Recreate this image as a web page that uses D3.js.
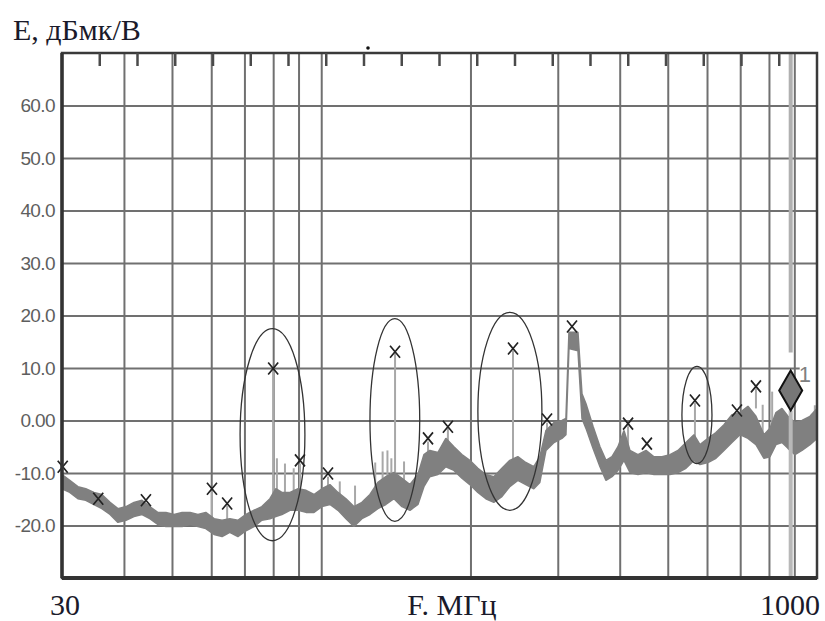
<!DOCTYPE html>
<html>
<head>
<meta charset="utf-8">
<script src="https://cdn.jsdelivr.net/npm/d3@7"></script>
<style>
  html, body { margin: 0; padding: 0; background: #fff; }
  svg { display: block; }
</style>
</head>
<body>
<svg id="chart" width="825" height="621"></svg>
<script>
// spectrum trace: frequency (MHz), upper and lower edge of the noise band (dB)
const traceFreq = [30, 31.1, 32.3, 33.5, 34.8, 36.1, 37.5, 38.9, 40.4, 41.9, 43.5, 45.1, 46.8, 48.6, 50.5, 52.4, 54.4, 56.4, 58.5, 60.8,
  63.1, 65.4, 67.9, 70.5, 73.2, 75.9, 78.8, 81.0, 83.3, 86.5, 89.8, 93.2, 96.7, 100.3, 104.1, 108.1, 112.2, 116.4, 120.8, 125.4,
  130.1, 135.0, 140.2, 145.5, 151.0, 156.7, 161.1, 165.6, 171.9, 178.4, 185.2, 192.2, 199.4, 207.0, 214.8, 222.9, 231.4, 240.1, 249.2, 258.6,
  268.4, 276.0, 284.0, 294.8, 305.9, 311.6, 316.0, 329.5, 335.7, 342.0, 353.3, 365.0, 375.3, 385.9, 396.8, 408.0, 419.5, 435.4, 451.9, 469.0,
  486.8, 505.2, 524.3, 544.1, 564.7, 580.7, 602.6, 625.4, 649.1, 673.6, 699.1, 725.6, 753.1, 781.6, 803.8, 826.5, 849.8, 873.8, 902.8, 932.6,
  967.9, 1000];
const traceHi = [-10.3, -11.4, -12.6, -13.0, -13.7, -14.1, -15.6, -16.8, -16.4, -15.6, -15.2, -16.4, -17.5, -17.5, -17.9, -17.5, -17.5, -17.9, -17.5, -18.7,
  -19.0, -18.7, -19.0, -17.9, -17.1, -16.4, -14.9, -13.0, -13.7, -13.7, -13.0, -13.3, -14.1, -13.0, -12.2, -13.7, -14.9, -16.4, -15.6, -14.1,
  -11.8, -10.7, -9.9, -11.0, -12.2, -10.3, -6.5, -5.7, -6.1, -3.4, -5.0, -6.5, -7.6, -9.1, -10.3, -10.7, -9.1, -7.6, -6.9, -8.0,
  -8.8, -6.9, -1.9, -0.4, 0, 0.4, 16.8, 16.8, 5.1, 3.2, -1.1, -5.0, -7.6, -6.9, -5.0, -1.9, -5.7, -6.5, -5.7, -6.9,
  -6.9, -6.5, -5.7, -4.2, -2.7, -4.6, -3.4, -2.3, -0.8, 1.1, 1.5, 2.7, 0.8, -2.7, -1.5, 1.5, 2.3, 0.8, -0.4, 0,
  0.8, 2.3];
const traceLo = [-13.0, -13.7, -14.9, -15.2, -16.0, -16.8, -17.9, -19.4, -19.0, -18.3, -17.9, -18.7, -19.8, -20.2, -20.2, -20.2, -19.8, -20.2, -20.6, -21.7,
  -22.1, -21.3, -22.1, -21.0, -20.2, -19.0, -18.7, -18.3, -17.9, -17.1, -17.1, -17.5, -17.5, -16.4, -16.0, -17.1, -18.7, -20.2, -18.7, -17.9,
  -16.8, -16.0, -14.9, -16.4, -17.1, -16.0, -12.6, -10.7, -10.3, -8.8, -9.5, -11.0, -12.2, -13.7, -14.9, -15.6, -14.5, -12.6, -11.4, -12.2,
  -13.0, -11.8, -5.7, -4.2, -3.4, -2.7, 13.7, 13.3, 0.4, -1.5, -5.3, -8.8, -11.4, -10.7, -9.5, -7.6, -9.9, -10.3, -9.9, -10.3,
  -10.3, -10.3, -9.9, -9.1, -7.6, -8.4, -8.0, -7.2, -5.7, -4.2, -2.7, -3.4, -4.6, -7.2, -6.9, -4.6, -4.2, -5.3, -6.5, -5.7,
  -4.6, -3.4];

// narrow spurs standing above the noise band
const spikeFreq =   [60.2, 64.6, 80.0, 81.4, 84.5, 88.0, 90.6, 103.2, 109.0, 117.0, 128.5, 133.0, 136.0, 138.5, 140.9, 146.9,
  164.2, 180.1, 243.7, 285.4, 415.8, 567.3, 689.5, 753.1, 777.0, 812.0, 990.0];
const spikeTop =    [-13.3, -16.2, 9.5, -7.2, -8.2, -9.1, -8.2, -10.7, -11.6, -12.4, -8.0, -5.9, -5.7, -7.2, 12.8, -7.8,
  -4.0, -1.5, 13.3, -0.4, -1.1, 3.4, 1.5, 6.1, 3.0, 5.5, 2.9];
const spikeBottom = [-18.7, -19.8, -15.8, -15.8, -15.8, -15.8, -14.9, -13.9, -14.5, -17.0, -14.0, -14.0, -14.0, -13.0, -11.0, -13.0,
  -7.2, -4.4, -8.2, -2.5, -6.3, -5.3, -1.5, 2.3, -3.0, -2.0, -2.0];

// peak markers (x)
const peakFreq =  [30.1, 35.5, 44.3, 60.2, 64.6, 80.0, 90.6, 103.2, 140.9, 164.2, 180.1, 243.7, 285.4, 320.5, 415.8, 453.8, 567.3, 689.5, 753.1];
const peakLevel = [-8.8, -14.9, -15.2, -13.0, -15.8, 9.9, -7.6, -10.1, 13.1, -3.4, -1.2, 13.7, 0.2, 17.9, -0.6, -4.4, 3.8, 1.9, 6.5];

// ellipses drawn round the highlighted emissions
const ellipseFreqLo =  [68.6, 125.4, 207.0, 534.0];
const ellipseFreqHi =  [92.7, 158.0, 278.7, 614.0];
const ellipseLevelLo = [-22.9, -19.2, -17.1, -8.2];
const ellipseLevelHi = [17.5, 19.4, 20.6, 10.3];

// marker 1
const markerFreq = 885;
const markerLevel = 5.7;
const markerLabel = '1';

const levelTicks = [-20, -10, 0, 10, 20, 30, 40, 50, 60];
const levelTickLabels = ['-20.0', '-10.0', '0.00', '10.0', '20.0', '30.0', '40.0', '50.0', '60.0'];
const gridFreqs = [40, 50, 60, 70, 80, 90, 100, 200, 300, 400, 500, 600, 700, 800, 900];
const freqDomain = [30, 1000];
const levelDomain = [-30, 70];

const margin = { top: 53, right: 8, bottom: 43, left: 62 };
const W = 825, H = 621;
const width = W - margin.left - margin.right;
const height = H - margin.top - margin.bottom;

const svg = d3.select('#chart');
const g = svg.append('g').attr('transform', `translate(${margin.left},${margin.top})`);

const x = d3.scaleLog().domain(freqDomain).range([0, width]);
const y = d3.scaleLinear().domain(levelDomain).range([height, 0]);

// grid
const yGrid = g.append('g')
  .call(d3.axisLeft(y).tickValues(levelTicks).tickSize(-width).tickFormat(''));
yGrid.select('.domain').remove();
yGrid.selectAll('line').attr('stroke', '#707070').attr('stroke-width', 2);

const xGrid = g.append('g')
  .attr('transform', `translate(0,${height})`)
  .call(d3.axisBottom(x).tickValues(gridFreqs).tickSize(-height).tickFormat(''));
xGrid.select('.domain').remove();
xGrid.selectAll('line').attr('stroke', '#707070').attr('stroke-width', 2);

// level labels
const yAxis = g.append('g')
  .call(d3.axisLeft(y).tickValues(levelTicks).tickSize(0).tickPadding(7)
    .tickFormat((d, i) => levelTickLabels[i]));
yAxis.select('.domain').remove();
yAxis.selectAll('text')
  .attr('fill', '#5e5e5e')
  .style('font-family', '"Liberation Sans", Arial, sans-serif')
  .style('font-size', '19px')
  .style('letter-spacing', '-0.6px');

// spurs
g.append('g').selectAll('line')
  .data(spikeFreq)
  .join('line')
  .attr('x1', d => x(d)).attr('x2', d => x(d))
  .attr('y1', (d, i) => y(spikeTop[i]))
  .attr('y2', (d, i) => y(spikeBottom[i]))
  .attr('stroke', '#a8a8a8')
  .attr('stroke-width', 2);

// noise band
const trace = traceFreq.map((f, i) => ({ f, hi: traceHi[i], lo: traceLo[i] }));
g.append('path')
  .datum(trace)
  .attr('d', d3.area().x(d => x(d.f)).y0(d => y(d.lo)).y1(d => y(d.hi)))
  .attr('fill', '#808080')
  .attr('stroke', '#808080')
  .attr('stroke-width', 1.5)
  .attr('stroke-linejoin', 'bevel');

// ellipses
g.append('g').selectAll('ellipse')
  .data(ellipseFreqLo)
  .join('ellipse')
  .attr('cx', (d, i) => (x(d) + x(ellipseFreqHi[i])) / 2)
  .attr('cy', (d, i) => (y(ellipseLevelLo[i]) + y(ellipseLevelHi[i])) / 2)
  .attr('rx', (d, i) => (x(ellipseFreqHi[i]) - x(d)) / 2)
  .attr('ry', (d, i) => (y(ellipseLevelLo[i]) - y(ellipseLevelHi[i])) / 2)
  .attr('fill', 'none')
  .attr('stroke', '#333')
  .attr('stroke-width', 1.3);

// peak crosses
g.append('g').selectAll('path')
  .data(peakFreq)
  .join('path')
  .attr('transform', (d, i) => `translate(${x(d)},${y(peakLevel[i])})`)
  .attr('d', 'M-5,-6L5,6M-5,6L5,-6')
  .attr('stroke', '#222')
  .attr('stroke-width', 1.7)
  .attr('fill', 'none');

// marker line and diamond
const mx = x(markerFreq), my = y(markerLevel);
g.append('line')
  .attr('x1', mx).attr('x2', mx).attr('y1', 0).attr('y2', my - 38)
  .attr('stroke', '#b0b0b0').attr('stroke-width', 4);
g.append('line')
  .attr('x1', mx).attr('x2', mx).attr('y1', my + 20).attr('y2', height)
  .attr('stroke', '#b8b8b8').attr('stroke-width', 4);
g.append('path')
  .attr('d', `M${mx},${my - 20}L${mx + 11.5},${my}L${mx},${my + 20}L${mx - 11.5},${my}Z`)
  .attr('fill', '#777')
  .attr('stroke', '#111')
  .attr('stroke-width', 2);
g.append('rect')
  .attr('x', mx + 9).attr('y', my - 30).attr('width', width - mx - 9).attr('height', 22)
  .attr('fill', '#fff');
g.append('text')
  .attr('x', mx + 8).attr('y', my - 9)
  .attr('fill', '#808080')
  .style('font-family', '"Liberation Sans", Arial, sans-serif')
  .style('font-size', '22px')
  .text(markerLabel);

// frame
g.append('rect')
  .attr('width', width).attr('height', height)
  .attr('fill', 'none').attr('stroke', '#3a3a3a').attr('stroke-width', 2.5);
g.append('line').attr('x1', 0).attr('x2', 0).attr('y1', 0).attr('y2', height)
  .attr('stroke', '#333').attr('stroke-width', 3.5);
g.append('line').attr('x1', 0).attr('x2', width).attr('y1', height).attr('y2', height)
  .attr('stroke', '#333').attr('stroke-width', 4);

// division ticks along the top edge
g.append('g').selectAll('line')
  .data(d3.range(1, 20))
  .join('line')
  .attr('x1', d => d * width / 20).attr('x2', d => d * width / 20)
  .attr('y1', 0).attr('y2', 13)
  .attr('stroke', '#4a4a4a').attr('stroke-width', 2.5);

svg.append('circle').attr('cx', 368).attr('cy', 48).attr('r', 1.8).attr('fill', '#111');

// titles
const serif = '"Liberation Serif", "Times New Roman", serif';
svg.append('text')
  .attr('x', 13).attr('y', 40)
  .attr('fill', '#1a1a2a')
  .style('font-family', serif).style('font-size', '30px')
  .text('E, дБмк/В');
svg.append('text')
  .attr('x', margin.left + x(freqDomain[0]) - 12).attr('y', 615)
  .attr('fill', '#1a1a2a')
  .style('font-family', serif).style('font-size', '30px')
  .text('30');
svg.append('text')
  .attr('x', margin.left + x(freqDomain[1]) + 3).attr('y', 615)
  .attr('text-anchor', 'end')
  .attr('fill', '#1a1a2a')
  .style('font-family', serif).style('font-size', '30px')
  .text('1000');
svg.append('text')
  .attr('x', 452).attr('y', 615)
  .attr('text-anchor', 'middle')
  .attr('fill', '#1a1a2a')
  .style('font-family', serif).style('font-size', '30px')
  .text('F. МГц');
</script>
</body>
</html>
